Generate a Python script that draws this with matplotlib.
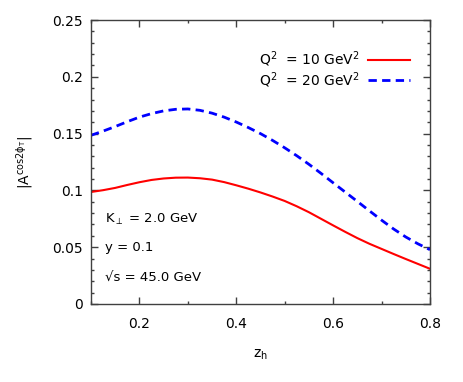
import matplotlib
matplotlib.use('Agg')
import matplotlib.pyplot as plt
from matplotlib.ticker import MultipleLocator

plt.rcParams['font.family'] = ['DejaVu Sans']
plt.rcParams['mathtext.fontset'] = 'dejavusans'
plt.rcParams['mathtext.default'] = 'regular'

# values
zh = [0.100, 0.125, 0.150, 0.175, 0.200, 0.225, 0.250, 0.275, 0.300, 0.325,
      0.350, 0.375, 0.400, 0.425, 0.450, 0.475, 0.500, 0.525, 0.550, 0.575,
      0.600, 0.625, 0.650, 0.675, 0.700, 0.725, 0.750, 0.775, 0.800]
asym_q10 = [0.0986, 0.1002, 0.1022, 0.1048, 0.1072, 0.1092, 0.1105, 0.1112, 0.1113, 0.1107,
            0.1095, 0.1073, 0.1045, 0.1015, 0.0982, 0.0946, 0.0907, 0.0860, 0.0808, 0.0750,
            0.0692, 0.0635, 0.0580, 0.0530, 0.0485, 0.0440, 0.0396, 0.0353, 0.0310]
asym_q20 = [0.1485, 0.1522, 0.1562, 0.1605, 0.1645, 0.1676, 0.1700, 0.1714, 0.1717, 0.1705,
            0.1680, 0.1645, 0.1602, 0.1553, 0.1500, 0.1440, 0.1375, 0.1305, 0.1230, 0.1150,
            0.1067, 0.0985, 0.0903, 0.0820, 0.0738, 0.0660, 0.0590, 0.0530, 0.0478]
labels = [r'Q$^2$  = 10 GeV$^2$', r'Q$^2$  = 20 GeV$^2$']
notes = [r'K$_{\perp}$ = 2.0 GeV', 'y = 0.1', '\u221as = 45.0 GeV']

fig = plt.figure(figsize=(4.63, 3.82), dpi=100)
ax = fig.add_axes([0.1965, 0.2042, 0.7322, 0.7434])

ax.plot(zh, asym_q10, color='#ff0000', lw=1.5, label=labels[0])
ax.plot(zh, asym_q20, color='#0000ff', lw=2.0, dashes=(3.0, 1.9), label=labels[1])

ax.set_xlim(0.1, 0.8)
ax.set_ylim(0, 0.25)
ax.xaxis.set_minor_locator(MultipleLocator(0.1))
ax.yaxis.set_minor_locator(MultipleLocator(0.01))
ax.set_xticks([0.2, 0.4, 0.6, 0.8])
ax.set_yticks([0, 0.05, 0.1, 0.15, 0.2, 0.25])
ax.set_yticklabels(['0', '0.05', '0.1', '0.15', '0.2', '0.25'])

for s in ax.spines.values():
    s.set_color('#404040')
    s.set_linewidth(1.0)
ax.tick_params(which='both', direction='in', top=True, right=True, color='#404040',
               labelsize=10)
ax.tick_params(axis='x', which='both', pad=9.5)
ax.tick_params(axis='y', which='both', pad=6)
ax.tick_params(which='major', length=5, width=1.0)
ax.tick_params(which='minor', length=2.5, width=1.0)

ax.set_xlabel(r'z$_{\rm h}$', fontsize=10, labelpad=12)
ax.set_ylabel(r'|A$^{\rm cos2\phi_{T}}$|', fontsize=10, labelpad=12)

leg = ax.legend(loc='upper right', bbox_to_anchor=(0.977, 0.941), frameon=False,
                markerfirst=False, handlelength=3.0, handletextpad=0.6,
                labelspacing=0.08, fontsize=10)

for yv, t in zip([0.0748, 0.0493, 0.0238], notes):
    ax.text(0.129, yv, t, fontsize=9.5, va='center', ha='left')

fig.savefig('out.png', dpi=100)
